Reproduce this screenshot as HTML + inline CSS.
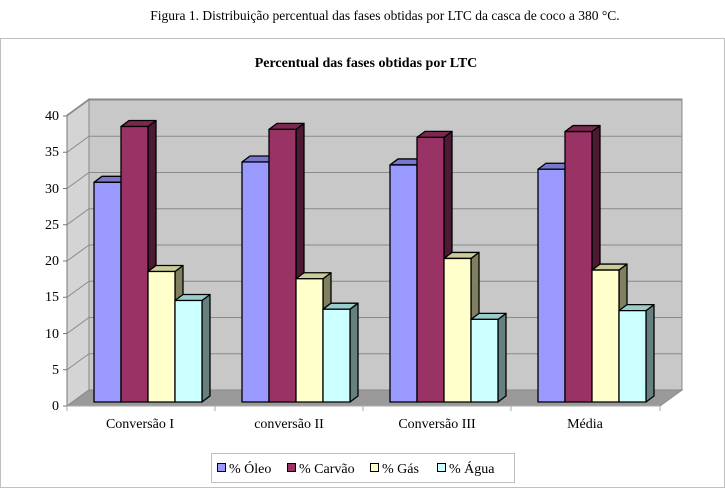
<!DOCTYPE html>
<html><head><meta charset="utf-8"><style>
body{margin:0;background:#fff;width:725px;height:489px;overflow:hidden}
svg{display:block;font-family:"Liberation Serif",serif}
</style></head><body>
<svg id="s" width="725" height="489" viewBox="0 0 725 489">
<text x="385" y="20" font-size="13.5" text-anchor="middle">Figura 1. Distribuição percentual das fases obtidas por LTC da casca de coco a 380 °C.</text>
<rect x="0.5" y="38.5" width="724" height="449" fill="#fff" stroke="#c0c0c0"/>
<text x="366" y="67" font-size="14" font-weight="bold" text-anchor="middle">Percentual das fases obtidas por LTC</text>
<polygon points="89,99 682,99 682,390 89,390" fill="#c8c8c8" stroke="#888"/>
<polygon points="67,115 89,99 89,390 67,406" fill="#d4d4d4" stroke="#888"/>
<polygon points="67,406 89,390 682,390 660,406" fill="#9a9a9a" stroke="#888"/>
<g id="grid" stroke="#8a8a8a" stroke-width="1"></g>
<line x1="67" y1="115" x2="67" y2="406" stroke="#777"/>
<line x1="67" y1="406" x2="660" y2="406" stroke="#aaa"/>
<g font-size="14" text-anchor="end" id="yl">
<text x="59" y="120">40</text><text x="59" y="156">35</text><text x="59" y="193">30</text><text x="59" y="229">25</text><text x="59" y="265">20</text><text x="59" y="301">15</text><text x="59" y="338">10</text><text x="59" y="374">5</text><text x="59" y="410">0</text>
</g>
<g font-size="14" text-anchor="middle">
<text x="140" y="428">Conversão I</text><text x="289" y="428">conversão II</text><text x="437" y="428">Conversão III</text><text x="585" y="428">Média</text>
</g>
<g id="bars" stroke="#000" stroke-width="1.3" stroke-linejoin="round"></g>
<rect x="211.5" y="453.5" width="303" height="29" fill="#fff" stroke="#c0c0c0"/>
<g font-size="14">
<rect x="217.5" y="463.5" width="8" height="8" fill="#9999ff" stroke="#000"/><text x="229" y="473">% Óleo</text>
<rect x="287.5" y="463.5" width="8" height="8" fill="#993366" stroke="#000"/><text x="299" y="473">% Carvão</text>
<rect x="370.5" y="463.5" width="8" height="8" fill="#ffffcc" stroke="#000"/><text x="382" y="473">% Gás</text>
<rect x="437.5" y="463.5" width="8" height="8" fill="#ccffff" stroke="#000"/><text x="449" y="473">% Água</text>
</g>
</svg>
<script>
var ns="http://www.w3.org/2000/svg";
function el(p,t,a){var e=document.createElementNS(ns,t);for(var k in a)e.setAttribute(k,a[k]);p.appendChild(e);return e;}
var g=document.getElementById('grid');
for(var i=0;i<=8;i++){var yb=390-i*36.25,yf=406-i*36.25;
 if(i>0)el(g,'line',{x1:89,y1:yb,x2:682,y2:yb});
 el(g,'line',{x1:67,y1:yf,x2:89,y2:yb});
 el(g,'line',{x1:63,y1:yf,x2:67,y2:yf,stroke:'#777'});}
[67,215,363,511,660].forEach(function(x){el(g,'line',{x1:x,y1:406,x2:x,y2:411,stroke:'#aaa'});});
var b=document.getElementById('bars');
var cols=[["#9999ff","#7777cc","#7777cc"],["#993366","#7a2850","#4d1a33"],["#ffffcc","#cccc99","#808060"],["#ccffff","#99cccc","#668080"]];
var data=[[30.3,38,18,14],[33.1,37.6,17,12.8],[32.7,36.5,19.8,11.4],[32.1,37.3,18.2,12.6]];
var gx=[94,242,390,538],w=27,dx=8,dy=6,base=402;
data.forEach(function(d,gi){d.forEach(function(v,si){
 var x=gx[gi]+si*w,y=base-v*7.25;
 el(b,'polygon',{points:[x+w,y,x+w+dx,y-dy,x+w+dx,base-dy,x+w,base].join(' '),fill:cols[si][2]});
 el(b,'polygon',{points:[x,y,x+dx,y-dy,x+w+dx,y-dy,x+w,y].join(' '),fill:cols[si][1]});
 el(b,'rect',{x:x,y:y,width:w,height:base-y,fill:cols[si][0]});
});});
</script>
</body></html>
